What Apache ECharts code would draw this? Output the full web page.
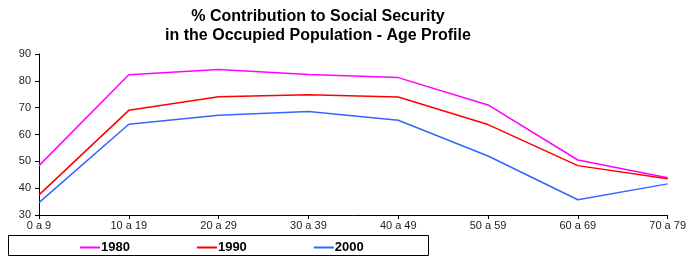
<!DOCTYPE html>
<html>
<head>
<meta charset="utf-8">
<script src="https://cdn.jsdelivr.net/npm/echarts@6/dist/echarts.min.js"></script>
<style>
  html, body { margin: 0; padding: 0; background: #fff; }
  #chart { width: 689px; height: 257px; }
</style>
</head>
<body>
<div id="chart"></div>
<script>
const ageGroups = ["0 a 9", "10 a 19", "20 a 29", "30 a 39", "40 a 49", "50 a 59", "60 a 69", "70 a 79"];
const y1980 = [48.4, 82.3, 84.2, 82.4, 81.2, 71.0, 50.5, 43.9];
const y1990 = [37.5, 69.0, 74.1, 74.8, 74.0, 63.7, 48.4, 43.5];
const y2000 = [34.6, 63.8, 67.2, 68.6, 65.3, 52.0, 35.7, 41.6];

const chart = echarts.init(document.getElementById("chart"));

function lineSeries(name, data, color) {
  return {
    name,
    type: "line",
    data,
    symbol: "none",
    lineStyle: { color, width: 1.5 },
    itemStyle: { color },
    animation: false,
  };
}

chart.setOption({
  backgroundColor: "#fff",
  title: {
    text: "% Contribution to Social Security\nin the Occupied Population - Age Profile",
    left: 313,
    textAlign: "center",
    top: 2,
    textStyle: {
      fontFamily: "Liberation Sans",
      fontWeight: "bold",
      fontSize: 16,
      lineHeight: 19,
      color: "#000",
    },
  },
  grid: { left: 39, right: 17, top: 54, bottom: 42 },
  xAxis: {
    type: "category",
    data: ageGroups,
    boundaryGap: false,
    axisLine: { lineStyle: { color: "#000", width: 1 } },
    axisTick: { alignWithLabel: true, length: 4, lineStyle: { color: "#000" } },
    axisLabel: { fontFamily: "Liberation Sans", fontSize: 11, color: "#222", margin: 5, interval: 0 },
  },
  yAxis: {
    type: "value",
    min: 30,
    max: 90,
    interval: 10,
    splitLine: { show: false },
    axisLine: { show: true, lineStyle: { color: "#000", width: 1 } },
    axisTick: { show: true, length: 4, lineStyle: { color: "#000" } },
    axisLabel: { fontFamily: "Liberation Sans", fontSize: 11, color: "#222", margin: 8 },
  },
  legend: {
    left: 75,
    top: 236,
    itemWidth: 20,
    itemHeight: 2,
    itemGap: 67,
    icon: "rect",
    textStyle: { fontFamily: "Liberation Sans", fontWeight: "bold", fontSize: 13, color: "#000", padding: [0, 0, 0, -4] },
    data: ["1980", "1990", "2000"],
  },
  graphic: [
    {
      type: "rect",
      shape: { x: 8.5, y: 235.5, width: 420, height: 20 },
      style: { fill: "none", stroke: "#000", lineWidth: 1 },
      z: -1,
    },
  ],
  series: [
    lineSeries("1980", y1980, "#ff00ff"),
    lineSeries("1990", y1990, "#ff0000"),
    lineSeries("2000", y2000, "#3366ff"),
  ],
});
</script>
</body>
</html>
